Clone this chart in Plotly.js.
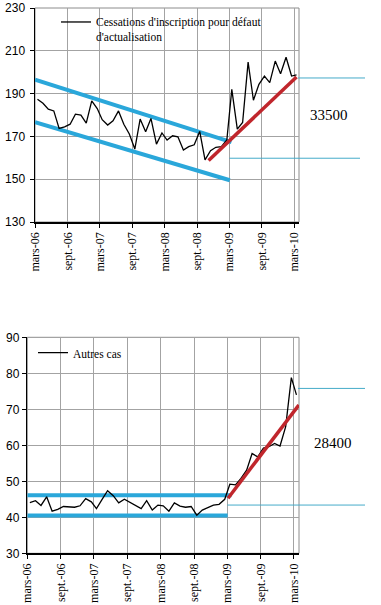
<!DOCTYPE html>
<html>
<head>
<meta charset="utf-8">
<script src="https://cdn.plot.ly/plotly-3.0.1.min.js"></script>
<style>html,body{margin:0;padding:0;background:#fff;}#chart{width:381px;height:605px;}</style>
</head>
<body>
<div id="chart"></div>
<script>
// Monthly observations, March 2006 - March 2010
const months = [
  '2006-03-15','2006-04-15','2006-05-15','2006-06-15','2006-07-15','2006-08-15','2006-09-15','2006-10-15','2006-11-15','2006-12-15',
  '2007-01-15','2007-02-15','2007-03-15','2007-04-15','2007-05-15','2007-06-15','2007-07-15','2007-08-15','2007-09-15','2007-10-15',
  '2007-11-15','2007-12-15','2008-01-15','2008-02-15','2008-03-15','2008-04-15','2008-05-15','2008-06-15','2008-07-15','2008-08-15',
  '2008-09-15','2008-10-15','2008-11-15','2008-12-15','2009-01-15','2009-02-15','2009-03-15','2009-04-15','2009-05-15','2009-06-15',
  '2009-07-15','2009-08-15','2009-09-15','2009-10-15','2009-11-15','2009-12-15','2010-01-15','2010-02-15','2010-03-15'
];

const cessations = [
  187.4,185.5,182.7,181.9,173.7,174.5,175.7,180.4,179.9,176.2,
  186.6,183.0,177.8,175.3,177.3,181.9,175.7,171.1,164.1,178.1,
  172.2,178.4,166.4,171.6,168.3,170.3,169.8,163.6,165.2,166.1,
  172.3,159.0,163.3,164.9,165.2,168.3,192.0,173.4,176.5,204.7,
  186.9,194.3,198.2,195.1,205.2,199.3,207.0,198.2,198.7
];

const autresCas = [
  44.1,44.6,43.3,45.7,41.7,42.2,43.0,42.8,42.8,43.2,
  45.2,44.3,42.4,45.0,47.4,46.0,44.0,45.0,44.2,43.2,
  42.4,44.6,42.0,43.4,43.2,41.7,44.0,43.1,42.8,43.0,
  40.6,42.0,42.8,43.4,43.6,45.0,49.2,49.0,50.8,53.1,
  57.7,56.8,59.2,59.6,60.5,59.8,65.2,78.8,74.0
];

const tickDates = ['2006-03-01','2006-09-01','2007-03-01','2007-09-01','2008-03-01','2008-09-01','2009-03-01','2009-09-01','2010-03-01'];
const tickLabels = ['mars-06','sept.-06','mars-07','sept.-07','mars-08','sept.-08','mars-09','sept.-09','mars-10'];

// Trend channels (chart 1)
const c1UpperX = ['2006-03-01','2009-03-13'], c1UpperY = [196.5,167.3];
const c1LowerX = ['2006-03-01','2009-03-04'], c1LowerY = [176.6,149.5];
const c1RedX   = ['2008-11-04','2010-03-15'], c1RedY   = [158.7,197.8];
// Trend channels (chart 2)
const c2UpperX = ['2006-03-01','2009-03-24'], c2UpperY = [46.1,46.1];
const c2LowerX = ['2006-03-01','2009-03-03'], c2LowerY = [40.5,40.5];
const c2RedX   = ['2009-03-05','2010-03-28'], c2RedY   = [45.3,71.2];

// Gap markers to the right of each chart
const c1GapTop = 197.3, c1GapBottom = 159.8, c1GapLabel = '33500';
const c2GapTop = 75.8,  c2GapBottom = 43.4,  c2GapLabel = '28400';

const xRange = ['2006-03-01','2010-03-29'];
const W = 381, H = 605;
const dom1x = [35/W, 299/W], dom1y = [1-222/H, 1-8/H];
const dom2x = [27.3/W, 299/W], dom2y = [1-553.3/H, 1-337.3/H];

const CYAN = '#2aa7da', RED = '#c0262c', THIN = '#45abc9', GRID = '#a3a3a3';
const serif = 'Liberation Serif, Times New Roman, serif';
const sans = 'Liberation Sans, Arial, sans-serif';

function dateToPaper(d, dom) {
  const t0 = Date.parse(xRange[0]), t1 = Date.parse(xRange[1]), t = Date.parse(d);
  return dom[0] + (t - t0) / (t1 - t0) * (dom[1] - dom[0]);
}

const traces = [
  {x: c1UpperX, y: c1UpperY, xaxis:'x', yaxis:'y', mode:'lines', line:{color:CYAN, width:4}, showlegend:false, hoverinfo:'skip'},
  {x: c1LowerX, y: c1LowerY, xaxis:'x', yaxis:'y', mode:'lines', line:{color:CYAN, width:4}, showlegend:false, hoverinfo:'skip'},
  {x: months, y: cessations, xaxis:'x', yaxis:'y', mode:'lines', name:"Cessations d'inscription pour défaut<br>d'actualisation",
   line:{color:'#000', width:1.3}, legend:'legend'},
  {x: c1RedX, y: c1RedY, xaxis:'x', yaxis:'y', mode:'lines', line:{color:RED, width:3.5}, showlegend:false, hoverinfo:'skip'},

  {x: c2UpperX, y: c2UpperY, xaxis:'x2', yaxis:'y2', mode:'lines', line:{color:CYAN, width:4}, showlegend:false, hoverinfo:'skip'},
  {x: c2LowerX, y: c2LowerY, xaxis:'x2', yaxis:'y2', mode:'lines', line:{color:CYAN, width:4}, showlegend:false, hoverinfo:'skip'},
  {x: months, y: autresCas, xaxis:'x2', yaxis:'y2', mode:'lines', name:'Autres cas',
   line:{color:'#000', width:1.3}, legend:'legend2'},
  {x: c2RedX, y: c2RedY, xaxis:'x2', yaxis:'y2', mode:'lines', line:{color:RED, width:3.5}, showlegend:false, hoverinfo:'skip'}
];

function xAxis(dom, anchor) {
  return {
    domain: dom, anchor: anchor, type:'date', range: xRange,
    tickmode:'array', tickvals: tickDates, ticktext: tickLabels, tickangle: -90,
    ticks:'outside', ticklen:4, tickcolor:'#000', tickwidth:1,
    showline:true, linecolor:'#000', linewidth:1.5,
    showgrid:true, gridcolor:GRID, gridwidth:1, zeroline:false,
    tickfont:{family:serif, size:12, color:'#000'}, automargin:false
  };
}
function yAxis(dom, anchor, range, dtick) {
  return {
    domain: dom, anchor: anchor, range: range, dtick: dtick, tick0: range[0],
    ticks:'outside', ticklen:4, tickcolor:'#000', tickwidth:1,
    showline:true, linecolor:'#000', linewidth:1.5,
    showgrid:true, gridcolor:GRID, gridwidth:1, zeroline:false,
    tickfont:{family:sans, size:12, color:'#000'}, automargin:false
  };
}

const layout = {
  width: W, height: H,
  margin:{l:0, r:0, t:0, b:0},
  paper_bgcolor:'#fff', plot_bgcolor:'#fff',
  showlegend:true,
  xaxis: xAxis(dom1x, 'y'),
  yaxis: Object.assign(yAxis(dom1y, 'x', [130,230], 20), {ticklabelstandoff:2}),
  xaxis2: xAxis(dom2x, 'y2'),
  yaxis2: yAxis(dom2y, 'x2', [30,90], 10),
  legend: {x:(97-41)/W, y:1-(22-9-5)/H, xanchor:'left', yanchor:'top', bgcolor:'rgba(0,0,0,0)', borderwidth:0,
           font:{family:serif, size:11.5, color:'#000'}, valign:'top', itemwidth:30},
  legend2: {x:(74-41)/W, y:1-(352.7-9-5)/H, xanchor:'left', yanchor:'top', bgcolor:'rgba(0,0,0,0)', borderwidth:0,
           font:{family:serif, size:11.5, color:'#000'}, valign:'top', itemwidth:30},
  shapes: [
    // frames
    {type:'rect', xref:'x domain', yref:'y domain', x0:0, x1:1, y0:0, y1:1, line:{color:'#8c8c8c', width:1}, layer:'below'},
    {type:'rect', xref:'x2 domain', yref:'y2 domain', x0:0, x1:1, y0:0, y1:1, line:{color:'#8c8c8c', width:1}, layer:'below'},
    // gap markers chart 1
    {type:'line', xref:'paper', yref:'y', x0:298/W, x1:365/W, y0:c1GapTop, y1:c1GapTop, line:{color:THIN, width:1}},
    {type:'line', xref:'paper', yref:'y', x0:dateToPaper('2009-03-01', dom1x), x1:360/W, y0:c1GapBottom, y1:c1GapBottom, line:{color:THIN, width:1}},
    // gap markers chart 2
    {type:'line', xref:'paper', yref:'y2', x0:298/W, x1:365/W, y0:c2GapTop, y1:c2GapTop, line:{color:THIN, width:1}},
    {type:'line', xref:'paper', yref:'y2', x0:dateToPaper('2009-03-01', dom2x), x1:365/W, y0:c2GapBottom, y1:c2GapBottom, line:{color:THIN, width:1}}
  ],
  annotations: [
    {xref:'paper', yref:'y', x:308/W, y:180, xanchor:'left', yanchor:'middle', text:c1GapLabel, showarrow:false,
     font:{family:serif, size:15, color:'#000'}},
    {xref:'paper', yref:'y2', x:312/W, y:60.7, xanchor:'left', yanchor:'middle', text:c2GapLabel, showarrow:false,
     font:{family:serif, size:15, color:'#000'}}
  ]
};

Plotly.newPlot('chart', traces, layout, {displayModeBar:false, staticPlot:true});
</script>
</body>
</html>
